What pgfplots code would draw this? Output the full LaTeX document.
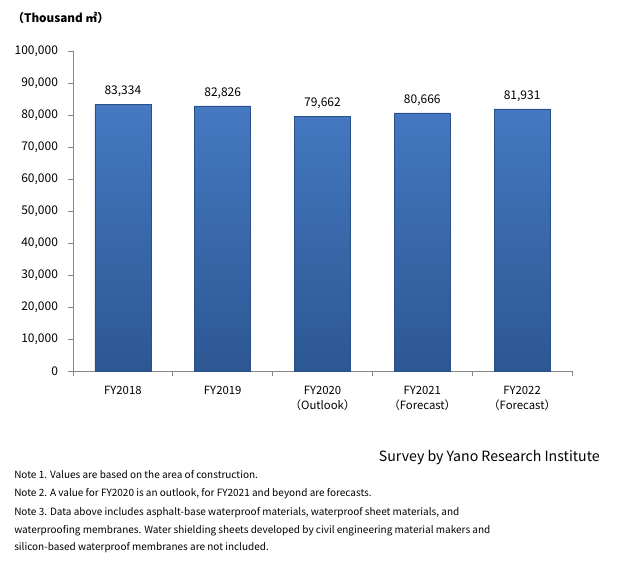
\documentclass[border=0pt]{standalone}
\usepackage{fontspec}
\setmainfont{Noto Sans CJK JP}
\usepackage{pgfplots}
\pgfplotsset{compat=1.18}

\definecolor{axisgray}{HTML}{868686}
\definecolor{bartop}{HTML}{4579C2}
\definecolor{barbottom}{HTML}{2C5793}
\definecolor{baredge}{HTML}{2A508A}

\begin{document}
\begin{tikzpicture}
% page frame: 619 x 561 px at 0.75pt per px
\fill[white] (0,0) rectangle (464.25pt,-420.75pt);
\path[use as bounding box] (0,0) rectangle (464.25pt,-420.75pt);

\begin{axis}[
    at={(54.75pt,-278.25pt)},
    anchor=south west,
    scale only axis,
    width=374.25pt,
    height=240pt,
    xmin=-0.5, xmax=4.5,
    ymin=0, ymax=100000,
    axis lines*=left,
    axis line style={axisgray, line width=0.6pt},
    tick align=outside,
    major tick length=3.75pt,
    tick style={axisgray, line width=0.6pt},
    xtick={-0.5,0.5,1.5,2.5,3.5,4.5},
    x tick label as interval,
    xticklabels={FY2018,FY2019,{FY2020\\（Outlook）},{FY2021\\（Forecast）},{FY2022\\（Forecast）}},
    xticklabel style={align=center, font=\fontsize{8.5}{11.5}\selectfont, yshift=-4pt},
    ytick={0,10000,...,100000},
    scaled y ticks=false,
    yticklabel style={font=\fontsize{9}{10}\selectfont, xshift=-4pt},
    /pgf/number format/fixed,
    /pgf/number format/precision=0,
    /pgf/number format/1000 sep={,},
    /pgf/number format/assume math mode=true,
    ybar,
    bar width=42pt,
    nodes near coords,
    every node near coord/.append style={font=\fontsize{9}{10}\selectfont, yshift=2pt},
    clip=false,
]
\addplot[draw=baredge, top color=bartop, bottom color=barbottom, line width=0.4pt]
    coordinates {
        (0, 83334)
        (1, 82826)
        (2, 79662)
        (3, 80666)
        (4, 81931)
    };
\end{axis}

\begin{scope}[x=0.75pt, y=-0.75pt]
\node[anchor=west, font=\bfseries\fontsize{8.8}{10}\selectfont, inner sep=0] at (12,18) {（Thousand ㎡）};
\node[anchor=east, font=\fontsize{10.6}{12}\selectfont, inner sep=0] at (600,458) {Survey by Yano Research Institute};
\begin{scope}[every node/.style={anchor=west, font=\fontsize{7.5}{10}\selectfont, inner sep=0}]
\node at (14,475) {Note 1. Values are based on the area of construction.};
\node at (14,494) {Note 2. A value for FY2020 is an outlook, for FY2021 and beyond are forecasts.};
\node at (14,513) {Note 3. Data above includes asphalt-base waterproof materials, waterproof sheet materials, and};
\node at (14,531) {waterproofing membranes. Water shielding sheets developed by civil engineering material makers and};
\node at (14,548) {silicon-based waterproof membranes are not included.};
\end{scope}
\end{scope}
\end{tikzpicture}
\end{document}
